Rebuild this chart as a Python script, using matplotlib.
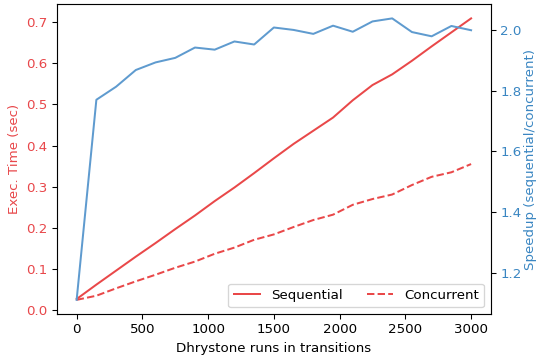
import matplotlib
matplotlib.use("Agg")
import matplotlib.pyplot as plt

runs = [0, 150, 300, 450, 600, 750, 900, 1050, 1200, 1350, 1500,
        1650, 1800, 1950, 2100, 2250, 2400, 2550, 2700, 2850, 3000]
sequential = [0.027, 0.062, 0.096, 0.130, 0.163, 0.197, 0.230, 0.265, 0.298, 0.333, 0.369,
              0.404, 0.436, 0.468, 0.510, 0.547, 0.573, 0.606, 0.641, 0.675, 0.709]
concurrent = [0.025, 0.035, 0.053, 0.070, 0.086, 0.103, 0.118, 0.137, 0.152, 0.171, 0.184,
              0.202, 0.219, 0.232, 0.256, 0.270, 0.281, 0.304, 0.324, 0.335, 0.355]
speedup = [1.111, 1.770, 1.813, 1.868, 1.893, 1.908, 1.942, 1.935, 1.962, 1.952, 2.008,
           2.000, 1.987, 2.014, 1.994, 2.028, 2.038, 1.993, 1.979, 2.013, 1.999]

red_line = '#e94849'
red_text = '#e8474a'
blue_line = '#5f9bcf'
blue_text = '#3a86c2'

DPI = 96
fig = plt.figure(figsize=(537/DPI, 360/DPI), dpi=DPI)
ax = fig.add_axes([0.106, 0.128, 0.808, 0.860])
ax.plot(runs, sequential, color=red_line, lw=1.5, label='Sequential')
ax.plot(runs, concurrent, color=red_line, lw=1.5, ls='--', label='Concurrent')
ax.set_xlabel('Dhrystone runs in transitions', fontsize=10)
ax.set_ylabel('Exec. Time (sec)', color=red_text, fontsize=10)
ax.tick_params(axis='y', labelcolor=red_text, labelsize=10)
ax.tick_params(axis='x', labelsize=10)
ax.set_xticks([0, 500, 1000, 1500, 2000, 2500, 3000])
ax.legend(loc='lower right', ncol=2, fontsize=10, framealpha=0.8, columnspacing=1.8)

ax2 = ax.twinx()
ax2.plot(runs, speedup, color=blue_line, lw=1.5)
ax2.set_ylabel('Speedup (sequential/concurrent)', color=blue_text, fontsize=10, labelpad=1.5)
ax2.tick_params(axis='y', labelcolor=blue_text, labelsize=10)
ax2.set_yticks([1.2, 1.4, 1.6, 1.8, 2.0])

fig.savefig('out.png', dpi=DPI)
